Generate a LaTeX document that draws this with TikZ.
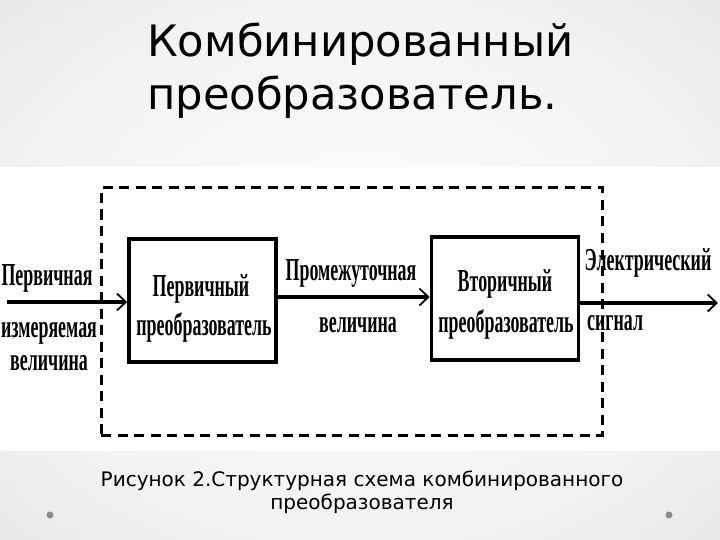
\documentclass[tikz,border=0pt]{standalone}
\usepackage{fontspec}
\setmainfont{DejaVu Sans}
\newfontfamily\scanfont[FakeStretch=0.56]{Liberation Serif Bold}
\usetikzlibrary{arrows.meta}
\pgfdeclareradialshading{slidebg}{\pgfpoint{0bp}{0bp}}{color(0bp)=(white); color(25bp)=(black!5); color(50bp)=(black!14); color(71bp)=(black!20)}
\begin{document}
\begin{tikzpicture}[x=1pt,y=-1pt,
  titletext/.style={anchor=base west, inner sep=0pt, font=\fontsize{43.3}{48}\selectfont},
  captext/.style={anchor=base, inner sep=0pt, font=\fontsize{20}{24}\selectfont},
  scantext/.style={anchor=base, inner sep=0pt, font=\scanfont\fontsize{32}{36}\selectfont},
  blockbox/.style={draw, line width=3.6pt, minimum width=147pt, minimum height=123pt, inner sep=0pt},
  framebox/.style={draw, line width=3pt, dash pattern=on 10pt off 6.5pt, minimum width=501pt, minimum height=247pt, inner sep=0pt},
  flow/.style={line width=4pt, -{Straight Barb[length=9pt,width=17pt,line width=1.8pt]}},
  dotmark/.style={circle, fill=black!45, minimum size=7pt, inner sep=0pt}
]
\useasboundingbox (0,0) rectangle (720,540);
\shade[shading=slidebg] (0,0) rectangle (720,540);
\fill[white] (0,167) rectangle (720,451);

% title
\node[titletext] (t1) at (147,57) {Комбинированный};
\node[titletext] (t2) at (147,110) {преобразователь.};

% dashed frame
\node[framebox] (frame) at (351.5,311.5) {};

% blocks
\node[blockbox] (b1) at (202.5,300.5) {};
\node[blockbox] (b2) at (505,298.5) {};

\node[scantext] (b1a) at (201,296) {Первичный};
\node[scantext] (b1b) at (204,335) {преобразователь};
\node[scantext] (b2a) at (505,291) {Вторичный};
\node[scantext] (b2b) at (506,332) {преобразователь};

% connectors
\coordinate (in) at (7,302);
\coordinate (out) at (718,303);
\draw[flow] (in) -- (in -| b1.west);
\draw[flow, line width=3.4pt] (b1.east |- 0,297) -- (b2.west |- 0,297);
\draw[flow] (b2.east |- out) -- (out);

% connector labels
\node[scantext] (l1) at (47,285) {Первичная};
\node[scantext] (l2) at (49,337) {измеряемая};
\node[scantext] (l3) at (49,370) {величина};
\node[scantext] (m1) at (351,280) {Промежуточная};
\node[scantext] (m2) at (358,332) {величина};
\node[scantext] (r1) at (648,270) {Электрический};
\node[scantext, anchor=base west] (r2) at (587,330) {сигнал};

% caption
\node[captext] (c1) at (362,486) {Рисунок 2.Структурная схема комбинированного};
\node[captext] (c2) at (362,509) {преобразователя};

% corner dots
\node[dotmark] (d1) at (50,515) {};
\node[dotmark] (d2) at (669,515) {};
\end{tikzpicture}
\end{document}
